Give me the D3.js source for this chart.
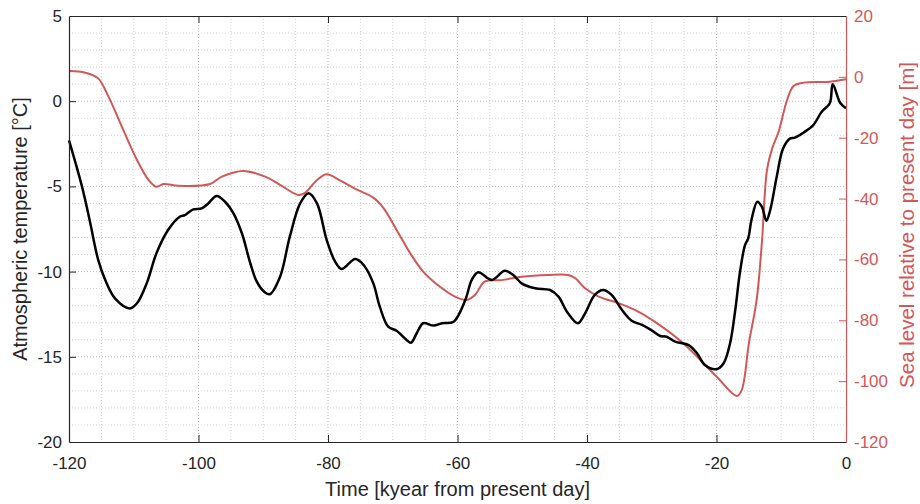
<!DOCTYPE html>
<html>
<head>
<meta charset="utf-8">
<script src="https://cdn.jsdelivr.net/npm/d3@7"></script>
<style>
  body { margin: 0; background: #fff; }
  svg text { font-family: "Liberation Sans", Arial, sans-serif; }
</style>
</head>
<body>
<div id="chart"></div>
<script>
// temperature record [kyr, degC]
const tempTime = [-120, -118.0, -116.8, -115.5, -114.4, -112.9, -110.6, -109.5, -108.0, -106.5,
  -104.7, -102.9, -102.1, -100.8, -99.5, -98.5, -97.2, -95.9, -94.6, -93.3, -92.0, -91.0,
  -89.8, -89.0, -87.4, -85.9, -84.3, -83.0, -81.7, -80.2, -78.9, -77.9, -75.8, -74.5, -73.0,
  -72.0, -70.7, -69.4, -68.4, -67.2, -66.3, -65.3, -63.7, -62.4, -60.6, -58.8, -57.8, -56.8,
  -54.7, -52.7, -51.4, -50.1, -48.0, -45.7, -44.4, -43.1, -41.4, -40.3, -38.8, -37.5, -36.2,
  -34.6, -33.1, -31.5, -30.0, -28.7, -27.7, -26.4, -24.3, -23.0, -21.8, -20.0, -18.9, -17.9,
  -17.1, -16.4, -15.6, -15.1, -14.6, -13.7, -13.0, -12.3, -11.7, -10.7, -9.7, -8.6, -7.9,
  -6.6, -5.05, -3.75, -2.5, -2.05, -0.9, 0];
const tempValues = [-2.3, -5.0, -7.0, -9.3, -10.5, -11.57, -12.16, -11.86, -10.69, -8.93,
  -7.56, -6.78, -6.68, -6.35, -6.29, -6.0, -5.56, -5.9, -6.58, -7.75, -9.51, -10.59,
  -11.2, -11.33, -10.3, -7.95, -6.0, -5.4, -6.0, -8.15, -9.42, -9.85, -9.26, -9.61, -10.69,
  -12.06, -13.23, -13.47, -13.82, -14.17, -13.62, -13.03, -13.17, -13.03, -12.94, -11.67, -10.49, -10.04,
  -10.49, -9.95, -10.2, -10.69, -10.98, -11.08, -11.47, -12.35, -13.03, -12.45, -11.37, -11.08, -11.37,
  -12.25, -12.88, -13.13, -13.45, -13.78, -13.82, -14.11, -14.31, -14.8, -15.48, -15.73, -15.38, -14.2,
  -12.25, -10.1, -8.44, -8.05, -6.97, -5.9, -6.19, -7.01, -6.38, -4.43, -2.76, -2.18, -2.14,
  -1.85, -1.4, -0.62, -0.12, 1.0, -0.09, -0.42];

// sea level record [kyr, m]
const seaTime = [-120, -117.5, -115.5, -113.9, -111.6, -109.5, -107.7, -106.5, -105.4, -103.1,
  -98.2, -96.4, -93.1, -89.7, -87.4, -84.6, -83.55, -81.7, -80.2, -78.1, -75.6, -73.0, -71.4,
  -69.4, -67.3, -65.3, -62.7, -60.4, -58.6, -57.3, -55.8, -53.2, -50.1, -46.0, -42.9, -41.8,
  -40.3, -38.2, -35.1, -32.6, -29.5, -25.1, -20.0, -16.85, -16.1, -15.0, -13.8, -13.0, -12.2,
  -11.4, -10.4, -9.1, -8.1, -6.55, -2.5, 0];
const seaValues = [1.9, 1.37, -0.5, -6.5, -17.5, -27.3, -33.9, -36.1, -35.2, -35.8,
  -35.2, -32.8, -30.9, -32.8, -35.5, -38.8, -38.1, -33.9, -32.0, -34.1, -37.0, -39.7, -43.2,
  -50.3, -58.0, -64.0, -69.0, -72.2, -73.3, -71.7, -67.3, -66.8, -65.7, -65.1, -65.1, -66.2,
  -69.5, -72.2, -74.4, -76.6, -80.5, -87.6, -98.5, -104.9, -102.9, -87.6, -73.3, -54.7, -30.6,
  -23.5, -18.0, -7.6, -3.0, -1.9, -1.6, -0.8];

const xTicks = [-120, -100, -80, -60, -40, -20, 0];
const tempTicks = [-20, -15, -10, -5, 0, 5];
const seaTicks = [-120, -100, -80, -60, -40, -20, 0, 20];

const width = 920, height = 504;
const margin = {top: 16, right: 74, bottom: 62, left: 69};
const w = width - margin.left - margin.right;
const h = height - margin.top - margin.bottom;
const red = "#d45757";
const axisGray = "#262626";
const plain = d => String(d);   // hyphen minus, not U+2212

const svg = d3.select("#chart").append("svg")
    .attr("width", width)
    .attr("height", height);
const g = svg.append("g").attr("transform", `translate(${margin.left},${margin.top})`);

const x = d3.scaleLinear().domain([-120, 0]).range([0, w]);
const yT = d3.scaleLinear().domain([-20, 5]).range([h, 0]);
const yS = d3.scaleLinear().domain([-120, 20]).range([h, 0]);

// grid
const grid = g.append("g").attr("fill", "none");
grid.selectAll(".vx").data(d3.range(-115, 0, 5))
  .enter().append("line")
    .attr("x1", d => x(d)).attr("x2", d => x(d))
    .attr("y1", 0).attr("y2", h)
    .attr("stroke", d => d % 20 === 0 ? "#bdbdbd" : "#d3d3d3")
    .attr("stroke-dasharray", "1,2");
grid.selectAll(".hy").data(d3.range(-19, 5, 1))
  .enter().append("line")
    .attr("x1", 0).attr("x2", w)
    .attr("y1", d => yT(d)).attr("y2", d => yT(d))
    .attr("stroke", d => d % 5 === 0 ? "#bdbdbd" : "#d3d3d3")
    .attr("stroke-dasharray", "1,2");

// lines
const tempData = tempTime.map((t, i) => ({t: t, v: tempValues[i]}));
const seaData = seaTime.map((t, i) => ({t: t, v: seaValues[i]}));

g.append("path")
    .datum(seaData)
    .attr("fill", "none")
    .attr("stroke", red)
    .attr("stroke-width", 2)
    .attr("d", d3.line().x(d => x(d.t)).y(d => yS(d.v)).curve(d3.curveCatmullRom.alpha(0.5)));

g.append("path")
    .datum(tempData)
    .attr("fill", "none")
    .attr("stroke", "#000")
    .attr("stroke-width", 2.5)
    .attr("d", d3.line().x(d => x(d.t)).y(d => yT(d.v)).curve(d3.curveCatmullRom.alpha(0.5)));

// axes
const fontSize = 17;
const axBottom = g.append("g")
    .attr("transform", `translate(0,${h})`)
    .attr("color", axisGray)
    .call(d3.axisBottom(x).tickValues(xTicks).tickFormat(plain).tickSize(-7).tickPadding(15).tickSizeOuter(0));
const axTop = g.append("g")
    .attr("color", axisGray)
    .call(d3.axisTop(x).tickValues(xTicks).tickSize(-7).tickSizeOuter(0).tickFormat(""));
const axLeft = g.append("g")
    .attr("color", axisGray)
    .call(d3.axisLeft(yT).tickValues(tempTicks).tickFormat(plain).tickSize(-7).tickPadding(7).tickSizeOuter(0));
const axRight = g.append("g")
    .attr("transform", `translate(${w},0)`)
    .attr("color", red)
    .call(d3.axisRight(yS).tickValues(seaTicks).tickFormat(plain).tickSize(-7).tickPadding(8).tickSizeOuter(0));

[axBottom, axTop, axLeft, axRight].forEach(a => {
  a.selectAll("text").attr("font-size", fontSize).attr("font-family", "Liberation Sans, Arial, sans-serif");
  a.select(".domain").attr("stroke-width", 1.2);
});
axBottom.selectAll(".tick").filter(d => d === -120 || d === 0).select("line").remove();
axTop.selectAll(".tick").filter(d => d === -120 || d === 0).select("line").remove();
axLeft.selectAll(".tick").filter(d => d === -20 || d === 5).select("line").remove();
axRight.selectAll(".tick").filter(d => d === -120 || d === 20).select("line").remove();

// titles
svg.append("text")
    .attr("x", margin.left + w / 2)
    .attr("y", 496)
    .attr("text-anchor", "middle")
    .attr("font-size", 20)
    .attr("fill", axisGray)
    .text("Time [kyear from present day]");

svg.append("text")
    .attr("transform", `translate(27,${margin.top + h / 2}) rotate(-90)`)
    .attr("text-anchor", "middle")
    .attr("font-size", 20)
    .attr("fill", axisGray)
    .text("Atmospheric temperature [°C]");

svg.append("text")
    .attr("transform", `translate(914,${margin.top + h / 2 - 4}) rotate(-90)`)
    .attr("text-anchor", "middle")
    .attr("font-size", 20.5)
    .attr("fill", red)
    .text("Sea level relative to present day [m]");
</script>
</body>
</html>
